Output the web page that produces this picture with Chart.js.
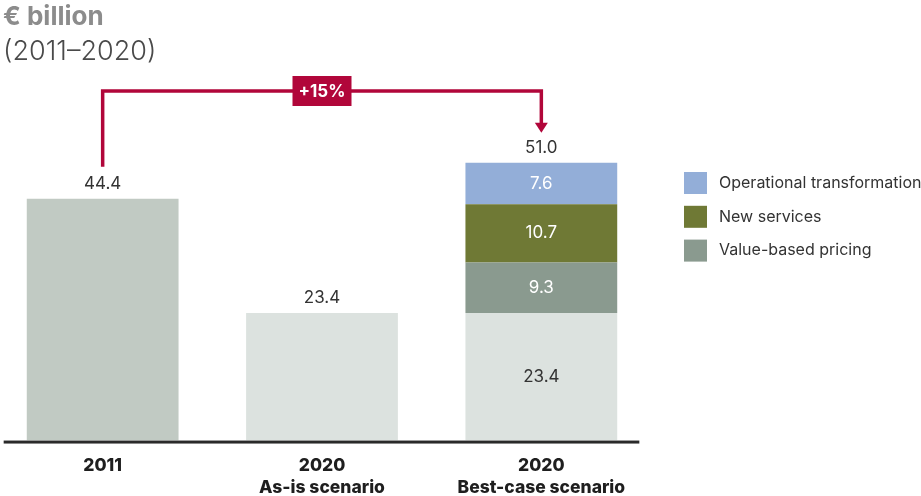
<!DOCTYPE html>
<html>
<head>
<meta charset="utf-8">
<script src="https://cdn.jsdelivr.net/npm/chart.js@4/dist/chart.umd.min.js"></script>
<style>
  body { margin: 0; background: #fff; }
  #wrap { width: 921px; height: 496px; position: relative; overflow: hidden; }
  #inner { position: absolute; left: -7px; top: 0; width: 928px; height: 513px; }
</style>
</head>
<body>
<div id="wrap"><div id="inner"><canvas id="chart"></canvas></div></div>
<script>
// data
const categories = [['2011'], ['2020', 'As-is scenario'], ['2020', 'Best-case scenario']];
const baseValues = [44.4, 23.4, 23.4];
const pricingValues = [null, null, 9.3];
const servicesValues = [null, null, 10.7];
const operationalValues = [null, null, 7.6];
const growthLabel = '+15%';
const titleText = '€ billion';
const subtitleText = '(2011–2020)';

const crimson = '#b1063a';
const textDark = '#333333';
const shift = 7; // canvas sits 7px left of the page edge

const datasets = [
    { label: 'Base', data: baseValues, backgroundColor: ['#c1cac3', '#dce2df', '#dce2df'], labelColor: textDark },
    { label: 'Value-based pricing', data: pricingValues, backgroundColor: '#8a9a8f', labelColor: '#ffffff' },
    { label: 'New services', data: servicesValues, backgroundColor: '#6f7935', labelColor: '#ffffff' },
    { label: 'Operational transformation', data: operationalValues, backgroundColor: '#93aed8', labelColor: '#ffffff' },
];

// labels, totals, arrow, legend and title
const decorations = {
    id: 'decorations',
    afterDatasetsDraw(chart) {
        const ctx = chart.ctx;
        const x = chart.scales.x;
        ctx.save();

        // axis line
        const axisL = x.getPixelForValue(0) - 99;
        const axisR = x.getPixelForValue(2) + 98;
        ctx.fillStyle = '#2a2a2a';
        ctx.fillRect(axisL, chart.chartArea.bottom, axisR - axisL, 3);

        // values inside segments
        ctx.textAlign = 'center';
        ctx.textBaseline = 'middle';
        ctx.font = '17px Inter';
        const tops = [];
        chart.data.datasets.forEach((ds, i) => {
            const meta = chart.getDatasetMeta(i);
            ds.data.forEach((v, j) => {
                if (v == null) return;
                const el = meta.data[j];
                if (tops[j] == null || el.y < tops[j]) tops[j] = el.y;
                // single bars only carry a total above them
                const stacked = chart.data.datasets.filter(d => d.data[j] != null).length > 1;
                if (!stacked) return;
                ctx.fillStyle = ds.labelColor;
                ctx.fillText(v.toFixed(1), el.x, (el.y + el.base) / 2);
            });
        });

        // totals above bars
        ctx.fillStyle = textDark;
        categories.forEach((c, j) => {
            const total = chart.data.datasets.reduce((s, d) => s + (d.data[j] || 0), 0);
            ctx.fillText(total.toFixed(1), x.getPixelForValue(j), tops[j] - 15);
        });

        // growth arrow
        const leftX = x.getPixelForValue(0);
        const rightX = x.getPixelForValue(2);
        const midX = x.getPixelForValue(1);
        const lineY = 91;
        const startY = tops[0] - 32;
        const tipY = tops[2] - 30;
        ctx.strokeStyle = crimson;
        ctx.lineWidth = 3.5;
        ctx.beginPath();
        ctx.moveTo(leftX, startY);
        ctx.lineTo(leftX, lineY);
        ctx.lineTo(rightX, lineY);
        ctx.lineTo(rightX, tipY - 9);
        ctx.stroke();
        ctx.fillStyle = crimson;
        ctx.beginPath();
        ctx.moveTo(rightX - 6.5, tipY - 10);
        ctx.lineTo(rightX + 6.5, tipY - 10);
        ctx.lineTo(rightX, tipY);
        ctx.closePath();
        ctx.fill();
        ctx.fillRect(midX - 29.5, lineY - 15, 59, 30);
        ctx.fillStyle = '#ffffff';
        ctx.font = 'bold 17px Inter';
        ctx.fillText(growthLabel, midX, lineY + 1);

        // legend, top to bottom like the stack
        const legendX = chart.chartArea.right + 33;
        const legendItems = chart.data.datasets.slice(1).reverse();
        ctx.textAlign = 'left';
        ctx.font = '16px Inter';
        legendItems.forEach((ds, k) => {
            const cy = 183 + k * 33.8;
            ctx.fillStyle = ds.backgroundColor;
            ctx.fillRect(legendX, cy - 11, 23, 22);
            ctx.fillStyle = textDark;
            ctx.fillText(ds.label, legendX + 35, cy);
        });

        // title
        ctx.textBaseline = 'alphabetic';
        ctx.fillStyle = '#8c8c8c';
        ctx.font = 'bold 26px Inter';
        ctx.fillText(titleText, 3 + shift, 25);
        ctx.fillStyle = '#4a4a4a';
        ctx.font = '300 27px Inter';
        ctx.fillText(subtitleText, 3 + shift, 60);

        ctx.restore();
    }
};

new Chart(document.getElementById('chart'), {
    type: 'bar',
    data: {
        labels: categories,
        datasets: datasets.map(d => ({
            label: d.label,
            data: d.data,
            backgroundColor: d.backgroundColor,
            labelColor: d.labelColor,
            barPercentage: 0.692,
            categoryPercentage: 1,
            borderWidth: 0,
        }))
    },
    options: {
        responsive: true,
        maintainAspectRatio: false,
        animation: false,
        layout: {
            padding: { left: 0, right: 270, top: 92, bottom: 0 }
        },
        plugins: {
            legend: { display: false },
            tooltip: { enabled: false },
        },
        scales: {
            x: {
                stacked: true,
                grid: { display: false, drawTicks: false, tickLength: 0 },
                border: { display: false },
                ticks: {
                    autoSkip: false,
                    maxRotation: 0,
                    padding: 14,
                    color: '#1e1e1e',
                    font: { family: 'Inter', size: 17.5, weight: 800, lineHeight: 1.27 },
                },
            },
            y: {
                stacked: true,
                display: false,
                min: 0,
                max: 64,
            },
        },
    },
    plugins: [decorations],
});
</script>
</body>
</html>
